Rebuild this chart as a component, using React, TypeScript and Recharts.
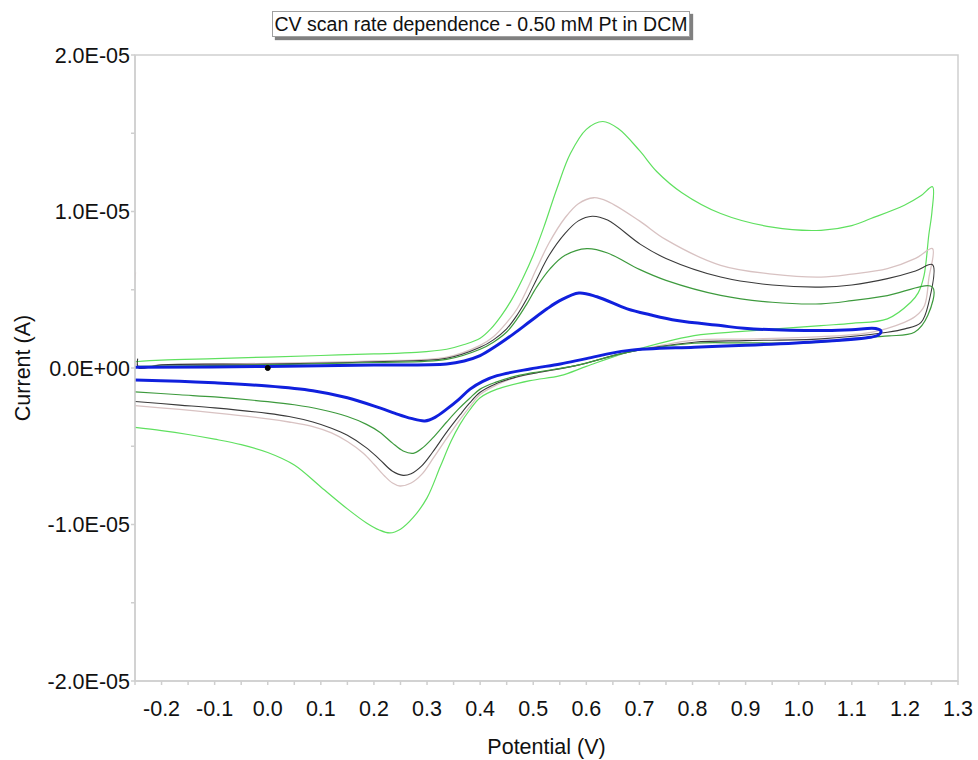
import React from 'react';
import { ComposedChart, Line, XAxis, YAxis, ReferenceArea } from 'recharts';

type Pt = [number, number];

// Potential (V), current (units of 1E-05 A)
const scanLightGreen: Pt[] = [
  [-0.25, 0.04], [-0.2, 0.05], [-0.1, 0.06], [0.0, 0.07], [0.1, 0.08], [0.2, 0.09], [0.28, 0.1], [0.337, 0.12],
  [0.37, 0.15], [0.4, 0.19], [0.42, 0.25], [0.44, 0.335], [0.46, 0.44], [0.48, 0.57], [0.5, 0.72], [0.52, 0.9],
  [0.545, 1.15], [0.57, 1.37], [0.6, 1.525], [0.631, 1.575], [0.66, 1.53], [0.7, 1.39], [0.733, 1.254], [0.78, 1.12],
  [0.853, 0.987], [0.95, 0.9], [1.042, 0.88], [1.1, 0.91], [1.136, 0.955], [1.199, 1.04], [1.23, 1.1], [1.252, 1.158],
  [1.251, 1.0], [1.245, 0.85], [1.236, 0.59], [1.225, 0.48], [1.211, 0.42], [1.167, 0.314], [1.1, 0.285], [1.042, 0.271],
  [0.9, 0.235], [0.803, 0.207], [0.677, 0.1], [0.6, 0.01], [0.551, -0.049], [0.494, -0.081], [0.432, -0.135],
  [0.4, -0.19], [0.38, -0.27], [0.362, -0.36], [0.345, -0.47], [0.325, -0.63], [0.3, -0.83], [0.274, -0.955],
  [0.25, -1.03], [0.23, -1.054], [0.21, -1.035], [0.186, -0.99], [0.15, -0.9], [0.1, -0.76], [0.05, -0.62],
  [0.0, -0.54], [-0.05, -0.49], [-0.1, -0.455], [-0.15, -0.425], [-0.2, -0.4], [-0.25, -0.38],
];

const scanPink: Pt[] = [
  [-0.249, 0.61], [-0.247, 0.02], [-0.2, 0.02], [0.0, 0.03], [0.2, 0.045], [0.337, 0.07], [0.4, 0.145], [0.425, 0.2],
  [0.45, 0.29], [0.47, 0.38], [0.488, 0.5], [0.507, 0.64], [0.53, 0.8], [0.56, 0.96], [0.585, 1.05], [0.614, 1.088],
  [0.64, 1.065], [0.7, 0.94], [0.75, 0.82], [0.853, 0.656], [0.95, 0.6], [1.042, 0.581], [1.1, 0.6], [1.167, 0.635],
  [1.22, 0.7], [1.252, 0.763],
  [1.245, 0.571], [1.237, 0.4], [1.22, 0.33], [1.199, 0.292], [1.136, 0.228], [1.042, 0.2], [0.9, 0.185], [0.803, 0.178],
  [0.677, 0.1], [0.58, 0.015], [0.5, -0.035], [0.463, -0.065], [0.43, -0.11], [0.4, -0.17], [0.38, -0.25],
  [0.362, -0.33], [0.337, -0.45], [0.312, -0.575], [0.29, -0.68], [0.27, -0.735], [0.249, -0.754], [0.235, -0.735],
  [0.22, -0.69], [0.2, -0.615], [0.18, -0.545], [0.15, -0.47], [0.12, -0.415], [0.085, -0.375], [0.04, -0.345],
  [0.0, -0.325], [-0.1, -0.287], [-0.166, -0.265], [-0.25, -0.24],
];

const scanBlack: Pt[] = [
  [-0.245, 0.06], [-0.243, 0.0], [-0.2, 0.02], [0.0, 0.025], [0.2, 0.04], [0.337, 0.062], [0.4, 0.132], [0.425, 0.18],
  [0.45, 0.25], [0.47, 0.34], [0.488, 0.442], [0.507, 0.571], [0.53, 0.72], [0.56, 0.86], [0.585, 0.94], [0.611, 0.97],
  [0.64, 0.945], [0.702, 0.79], [0.75, 0.7], [0.853, 0.581], [0.95, 0.53], [1.042, 0.517], [1.1, 0.53], [1.167, 0.571],
  [1.22, 0.62], [1.252, 0.66],
  [1.245, 0.42], [1.23, 0.29], [1.2, 0.25], [1.167, 0.228], [1.042, 0.186], [0.9, 0.175], [0.803, 0.165], [0.677, 0.1],
  [0.58, 0.015], [0.5, -0.035], [0.463, -0.063], [0.43, -0.1], [0.4, -0.155], [0.38, -0.225], [0.362, -0.3],
  [0.337, -0.41], [0.31, -0.54], [0.29, -0.625], [0.27, -0.675], [0.255, -0.686], [0.235, -0.66], [0.211, -0.585],
  [0.186, -0.51], [0.15, -0.43], [0.12, -0.385], [0.085, -0.345], [0.04, -0.31], [0.0, -0.29], [-0.1, -0.255],
  [-0.166, -0.237], [-0.25, -0.214],
];

const scanDarkGreen: Pt[] = [
  [-0.245, 0.01], [0.0, 0.02], [0.2, 0.035], [0.337, 0.055], [0.4, 0.12], [0.425, 0.165], [0.45, 0.23], [0.47, 0.315],
  [0.488, 0.41], [0.507, 0.52], [0.532, 0.635], [0.56, 0.72], [0.601, 0.763], [0.64, 0.735], [0.7, 0.63], [0.75, 0.56],
  [0.853, 0.464], [0.95, 0.42], [1.042, 0.41], [1.1, 0.43], [1.167, 0.463], [1.252, 0.517],
  [1.243, 0.335], [1.218, 0.228], [1.17, 0.205], [1.136, 0.197], [1.042, 0.164], [0.9, 0.16], [0.803, 0.158],
  [0.677, 0.1], [0.58, 0.015], [0.5, -0.03], [0.463, -0.055], [0.43, -0.09], [0.4, -0.135], [0.38, -0.195],
  [0.36, -0.26], [0.337, -0.345], [0.31, -0.45], [0.29, -0.515], [0.274, -0.545], [0.255, -0.53], [0.235, -0.48],
  [0.211, -0.41], [0.186, -0.36], [0.15, -0.31], [0.1, -0.265], [0.05, -0.235], [0.0, -0.215], [-0.1, -0.185],
  [-0.166, -0.171], [-0.25, -0.152],
];

const scanBlue: Pt[] = [
  [-0.25, 0.004], [0.0, 0.01], [0.2, 0.019], [0.337, 0.026], [0.37, 0.045], [0.4, 0.079], [0.43, 0.14], [0.463, 0.218],
  [0.495, 0.3], [0.526, 0.378], [0.55, 0.43], [0.586, 0.479], [0.62, 0.455], [0.677, 0.378], [0.72, 0.34],
  [0.771, 0.303], [0.853, 0.271], [0.897, 0.254], [1.042, 0.239], [1.1, 0.245], [1.145, 0.252], [1.155, 0.235],
  [1.15, 0.21], [1.136, 0.197], [1.042, 0.17], [0.9, 0.145], [0.803, 0.133], [0.677, 0.111], [0.6, 0.06],
  [0.551, 0.026], [0.494, -0.006], [0.432, -0.049], [0.405, -0.085], [0.381, -0.135], [0.36, -0.2], [0.337, -0.263],
  [0.315, -0.315], [0.296, -0.338], [0.27, -0.322], [0.24, -0.29], [0.211, -0.255], [0.15, -0.19], [0.085, -0.145],
  [0.0, -0.115], [-0.1, -0.095], [-0.166, -0.085], [-0.25, -0.077],
];

const startMarker: Pt[] = [[0.0, 0.0]];

const xTicks = [
  -0.25, -0.2, -0.15, -0.1, -0.05, 0, 0.05, 0.1, 0.15, 0.2, 0.25, 0.3, 0.35, 0.4, 0.45, 0.5, 0.55, 0.6, 0.65, 0.7,
  0.75, 0.8, 0.85, 0.9, 0.95, 1.0, 1.05, 1.1, 1.15, 1.2, 1.25, 1.3,
];
const xTickLabels = [
  '', '-0.2', '', '-0.1', '', '0.0', '', '0.1', '', '0.2', '', '0.3', '', '0.4', '', '0.5', '', '0.6', '', '0.7',
  '', '0.8', '', '0.9', '', '1.0', '', '1.1', '', '1.2', '', '1.3',
];
const yTicks = [-2, -1.5, -1, -0.5, 0, 0.5, 1, 1.5, 2];
const yTickLabels = ['-2.0E-05', '', '-1.0E-05', '', '0.0E+00', '', '1.0E-05', '', '2.0E-05'];

const toRows = (pts: Pt[]) => pts.map(([x, y]) => ({ x, y }));

// Centripetal Catmull-Rom curve factory (handles loops in x)
function smoothCurve(context: any) {
  let pts: number[][] = [];
  return {
    areaStart() {},
    areaEnd() {},
    lineStart() {
      pts = [];
    },
    point(x: number, y: number) {
      pts.push([+x, +y]);
    },
    lineEnd() {
      const n = pts.length;
      if (!n) return;
      context.moveTo(pts[0][0], pts[0][1]);
      if (n === 1) return;
      const dist = (a: number[], b: number[]) => Math.hypot(b[0] - a[0], b[1] - a[1]);
      for (let i = 0; i < n - 1; i++) {
        const p0 = pts[i - 1];
        const p1 = pts[i];
        const p2 = pts[i + 1];
        const p3 = pts[i + 2];
        const d01 = p0 ? dist(p0, p1) : 0;
        const d12 = dist(p1, p2);
        const d23 = p3 ? dist(p2, p3) : 0;
        const l01a = Math.sqrt(d01);
        const l12a = Math.sqrt(d12);
        const l23a = Math.sqrt(d23);
        let c1 = [p1[0], p1[1]];
        let c2 = [p2[0], p2[1]];
        if (p0 && l01a > 1e-9) {
          const a = 2 * d01 + 3 * l01a * l12a + d12;
          const nn = 3 * l01a * (l01a + l12a);
          c1 = [(p1[0] * a - p0[0] * d12 + p2[0] * d01) / nn, (p1[1] * a - p0[1] * d12 + p2[1] * d01) / nn];
        }
        if (p3 && l23a > 1e-9) {
          const b = 2 * d23 + 3 * l23a * l12a + d12;
          const m = 3 * l23a * (l23a + l12a);
          c2 = [(p2[0] * b + p1[0] * d23 - p3[0] * d12) / m, (p2[1] * b + p1[1] * d23 - p3[1] * d12) / m];
        }
        context.bezierCurveTo(c1[0], c1[1], c2[0], c2[1], p2[0], p2[1]);
      }
    },
  };
}

const FONT = '"Liberation Sans", Arial, Helvetica, sans-serif';
const AXIS = '#cfcfcf';

export default function App() {
  return (
    <div style={{ position: 'absolute', left: 0, top: 0, width: 978, height: 760, background: '#fff' }}>
      <ComposedChart width={978} height={760} margin={{ top: 55, right: 20, bottom: 0, left: 0 }}>
        <XAxis
          type="number"
          dataKey="x"
          domain={[-0.25, 1.3]}
          ticks={xTicks}
          interval={0}
          allowDataOverflow
          height={79}
          tickSize={4}
          tickMargin={16}
          stroke={AXIS}
          strokeWidth={1.5}
          tickFormatter={(_v: number, i: number) => xTickLabels[i]}
          tick={{ fill: '#111', fontSize: 21.5, fontFamily: FONT }}
          label={{ value: 'Potential (V)', position: 'center', dy: 25.5, fill: '#111', fontSize: 21.5, fontFamily: FONT }}
        />
        <YAxis
          type="number"
          dataKey="y"
          domain={[-2, 2]}
          ticks={yTicks}
          interval={0}
          allowDataOverflow
          width={135}
          tickSize={4}
          tickMargin={1}
          stroke={AXIS}
          strokeWidth={1.5}
          tickFormatter={(_v: number, i: number) => yTickLabels[i]}
          tick={{ fill: '#111', fontSize: 21.5, fontFamily: FONT }}
          label={{ value: 'Current (A)', position: 'center', angle: -90, dx: -45.5, fill: '#111', fontSize: 21.5, fontFamily: FONT }}
        />
        <ReferenceArea x1={-0.25} x2={1.3} y1={-2} y2={2} fill="none" stroke={AXIS} strokeWidth={1.5} ifOverflow="visible" />
        <Line data={toRows(scanLightGreen)} dataKey="y" type={smoothCurve as any} stroke="#5fe05f" strokeWidth={1.2} dot={false} isAnimationActive={false} />
        <Line data={toRows(scanPink)} dataKey="y" type={smoothCurve as any} stroke="#d8c2c2" strokeWidth={1.3} dot={false} isAnimationActive={false} />
        <Line data={toRows(scanBlack)} dataKey="y" type={smoothCurve as any} stroke="#3a3a3a" strokeWidth={1.1} dot={false} isAnimationActive={false} />
        <Line data={toRows(scanDarkGreen)} dataKey="y" type={smoothCurve as any} stroke="#3d9a3d" strokeWidth={1.2} dot={false} isAnimationActive={false} />
        <Line data={toRows(scanBlue)} dataKey="y" type={smoothCurve as any} stroke="#1020dd" strokeWidth={3} dot={false} isAnimationActive={false} />
        <Line data={toRows(startMarker)} dataKey="y" stroke="none" dot={{ r: 2.5, fill: '#000', stroke: '#000' }} isAnimationActive={false} />
      </ComposedChart>
      <div
        style={{
          position: 'absolute',
          left: 272,
          top: 11,
          width: 416,
          height: 24,
          border: '1px solid #a0a0a0',
          boxShadow: '3px 3px 1px #808080',
          background: '#fff',
          fontFamily: FONT,
          fontSize: 19.5,
          lineHeight: '24px',
          textAlign: 'center',
          color: '#111',
          whiteSpace: 'nowrap',
        }}
      >
        CV scan rate dependence - 0.50 mM Pt in DCM
      </div>
    </div>
  );
}
